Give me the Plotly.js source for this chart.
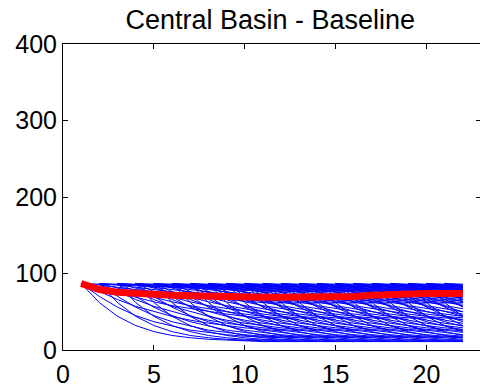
<!DOCTYPE html>
<html>
<head>
<meta charset="utf-8">
<script src="https://cdn.plot.ly/plotly-3.0.1.min.js"></script>
<style>
html,body{margin:0;padding:0;background:#fff;overflow:hidden;}
#chart{width:481px;height:391px;}
</style>
</head>
<body>
<div id="chart"></div>
<script>
// Years of the simulation
const years = [1,2,3,4,5,6,7,8,9,10,11,12,13,14,15,16,17,18,19,20,21,22];
// Start years of each projected trajectory fan
const fanStarts = [1,2,3,4,5,6,7,8,9,10,11,12,13,14,15,16,17,18,19,20,21];
// Trajectory values by years since start
const trajFast   = [87, 62, 44, 32, 24, 19, 16, 14, 13, 12, 11, 11];
const trajQuick  = [87, 70, 56, 45, 37, 31, 26, 23, 20, 18, 17, 16];
const trajMid    = [87, 76, 66, 57, 50, 44, 39, 35, 32, 29, 27, 25];
const trajModer  = [87, 81, 74, 68, 63, 58, 54, 50, 47, 44, 42, 40];
const trajSlow   = [87, 85, 82, 79, 76, 73, 70, 68, 66, 64, 62, 60];
const trajFlat   = [87, 86, 85, 84, 83, 82, 81, 80, 79, 78, 77, 76];
const trajectories = [trajFast, trajQuick, trajMid, trajModer, trajSlow, trajFlat];
// Mean (red) line
const meanValues = [87, 79, 75.5, 73.5, 72.5, 71.5, 71, 70, 69.5, 69.5, 69, 69, 69, 69, 69, 70, 71.5, 73, 73.5, 74, 74, 74];
const lastYear = years[years.length - 1];

const bx = [], by = [];
fanStarts.forEach(s => {
  trajectories.forEach(tr => {
    tr.forEach((v, a) => {
      const x = s + a;
      if (x <= lastYear) { bx.push(x); by.push(v); }
    });
    bx.push(null); by.push(null);
  });
});

const traces = [
  {x: bx, y: by, type: 'scatter', mode: 'lines', line: {color: '#0000ff', width: 1}, hoverinfo: 'skip', connectgaps: false},
  {x: years, y: meanValues, type: 'scatter', mode: 'lines', line: {color: '#ff0000', width: 7}}
];

const fontFam = 'Liberation Sans, Arial, sans-serif';
const axisCommon = {
  showline: true, linecolor: '#000', linewidth: 1, mirror: 'ticks',
  ticks: 'inside', ticklen: 5, tickcolor: '#000', showgrid: false, zeroline: false,
  tickfont: {family: fontFam, size: 25, color: '#000'}
};

const layout = {
  width: 481, height: 391,
  margin: {l: 63, r: 0, t: 44, b: 41, pad: 0},
  paper_bgcolor: '#fff', plot_bgcolor: '#fff',
  showlegend: false,
  title: {text: 'Central Basin - Baseline', x: 0.562, xref: 'container', xanchor: 'center',
          y: 1 - 20/391, yref: 'container', yanchor: 'middle',
          font: {family: fontFam, size: 27, color: '#000'}},
  xaxis: Object.assign({}, axisCommon, {range: [0, 23], tickvals: [0,5,10,15,20], ticklabelstandoff: 2}),
  yaxis: Object.assign({}, axisCommon, {range: [0, 400], tickvals: [0,100,200,300,400]})
};

Plotly.newPlot('chart', traces, layout, {displayModeBar: false, staticPlot: true});
</script>
</body>
</html>
